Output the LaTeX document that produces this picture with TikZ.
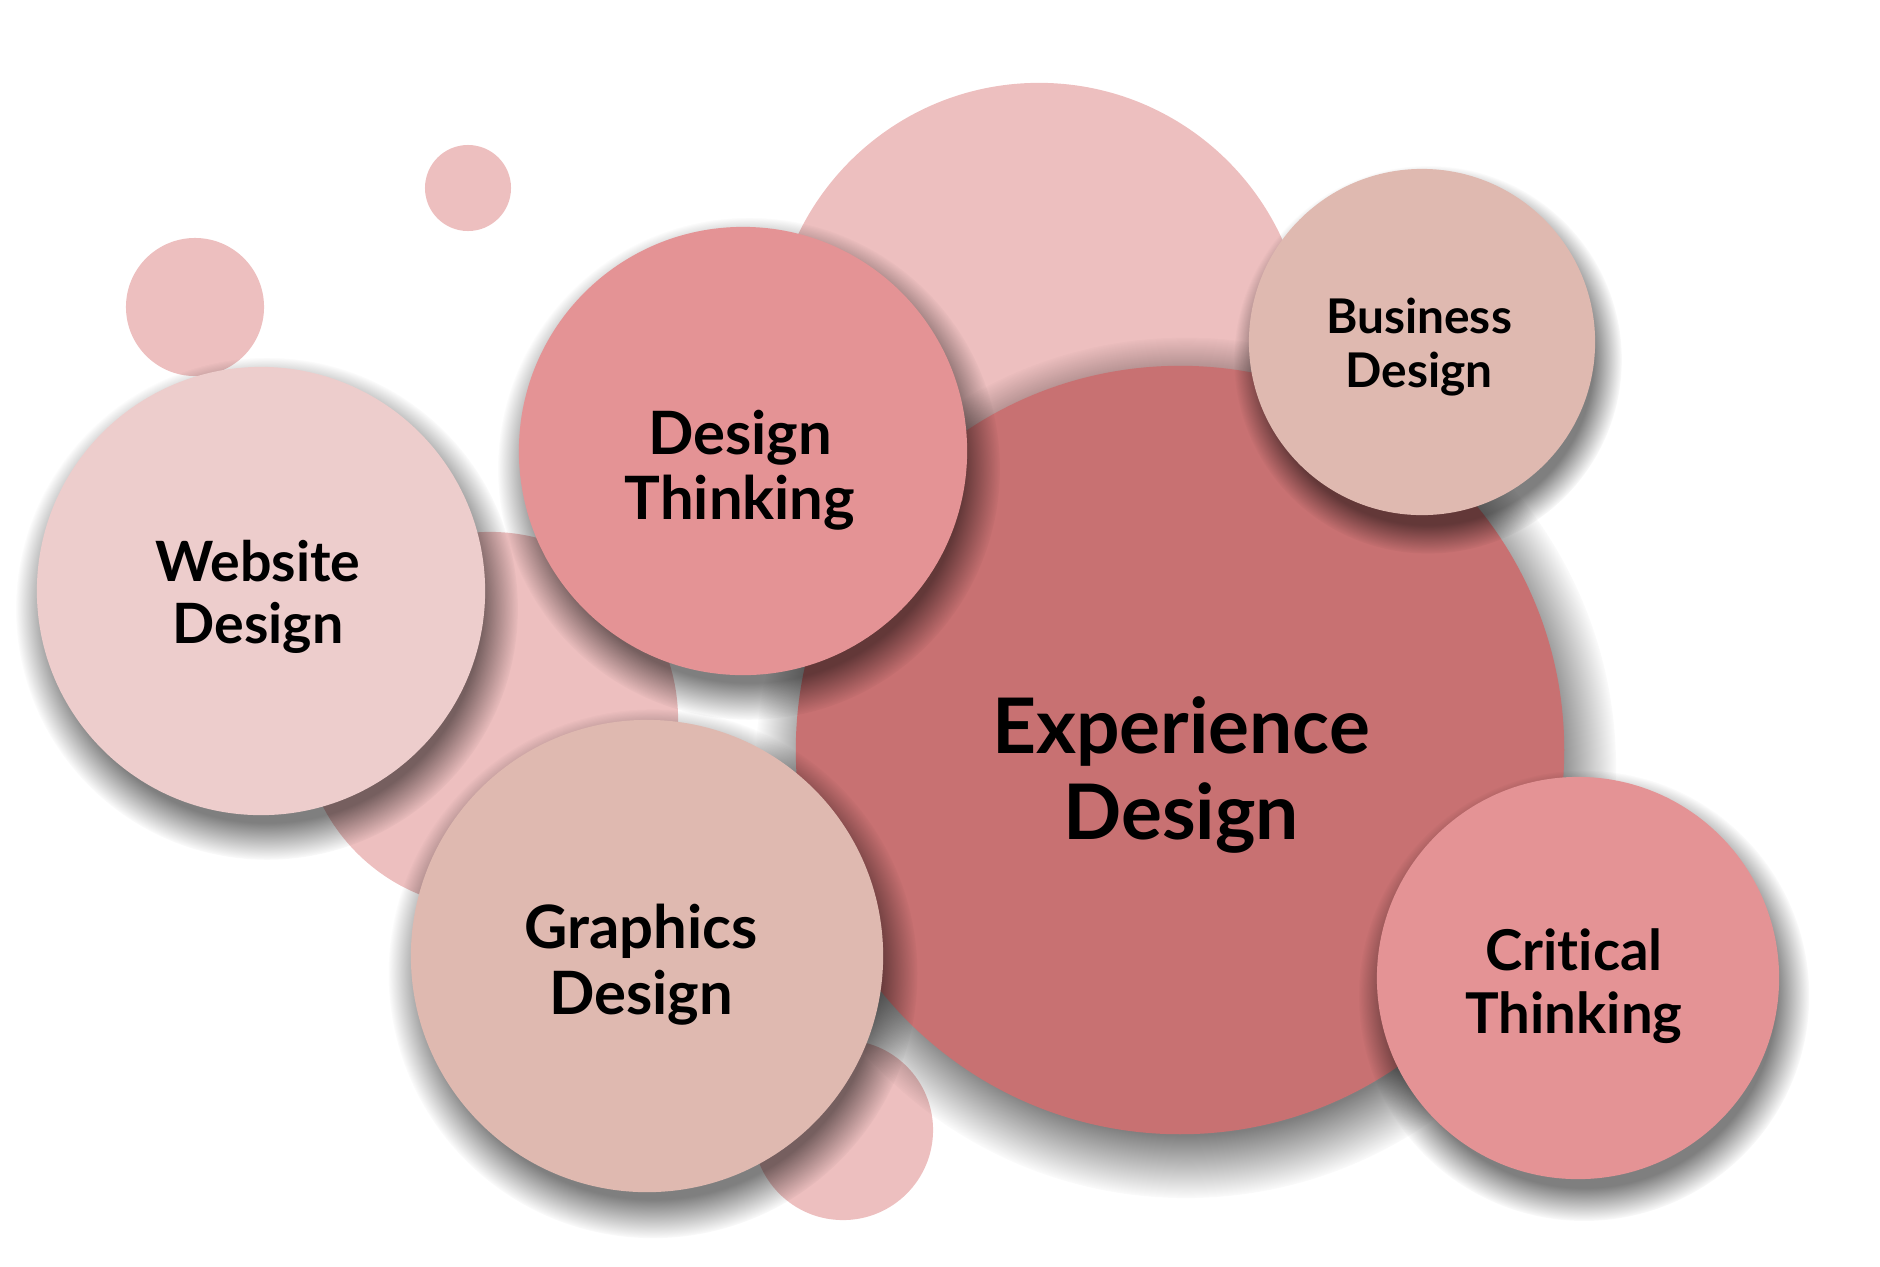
\documentclass[tikz,border=0pt]{standalone}
\usepackage{fontspec}
\setmainfont{Lato}[Ligatures=NoCommon]
\usepackage{tikz}
\usetikzlibrary{positioning,shadows,fadings}

\definecolor{bgpink}{HTML}{EDBFBF}
\definecolor{deeprose}{HTML}{C87172}
\definecolor{rose}{HTML}{E49395}
\definecolor{sand}{HTML}{DFB9B0}
\definecolor{blush}{HTML}{EDCDCC}

\begin{document}
\begin{tikzpicture}[x=0.01cm, y=-0.01cm, back/.style = {circle, fill=bgpink, draw=none, inner sep=0pt}, main/.style = {circle, draw=none, inner sep=0pt, general shadow={fill=black, opacity=0.5, shadow scale=1.12, shadow xshift=1.5pt, shadow yshift=-4.5pt, path fading=circle with fuzzy edge 15 percent}}, word/.style = {align=center, text=black}]

\useasboundingbox (0,0) rectangle (1880,1266);

% bubbles in the back
\node[back, minimum size=5.34cm] (bigback) at (1039,350) {};
\node[back, minimum size=1.38cm] (dotA) at (195,307) {};
\node[back, minimum size=0.86cm] (dotB) at (468,188) {};
\node[back, minimum size=3.76cm] (midback) at (490,720) {};
\node[back, minimum size=1.80cm] (lowback) at (843,1130) {};

% main bubbles
\node[main, fill=deeprose, minimum size=7.68cm] (xd) at (1180,750) {};
\node[main, fill=rose, minimum size=4.48cm] (dt) at (743,451) {};
\node[main, fill=sand, minimum size=3.46cm] (bd) at (1422,342) {};
\node[main, fill=blush, minimum size=4.48cm] (wd) at (261,591) {};
\node[main, fill=sand, minimum size=4.72cm] (gd) at (647,956) {};
\node[main, fill=rose, minimum size=4.02cm] (ct) at (1578,978) {};

% labels
\node[word, font=\bfseries\fontsize{21.8}{24.5}\selectfont] (xdtext) at (1181,775) {Experience\\Design};
\node[word, font=\bfseries\fontsize{17}{18.5}\selectfont] (dttext) at (740,470) {Design\\Thinking};
\node[word, font=\bfseries\fontsize{13.6}{15.4}\selectfont] (bdtext) at (1419,347) {Business\\Design};
\node[word, font=\bfseries\fontsize{15.8}{17.6}\selectfont] (wdtext) at (258,597) {Website\\Design};
\node[word, font=\bfseries\fontsize{17}{18.8}\selectfont] (gdtext) at (641,965) {Graphics\\Design};
\node[word, font=\bfseries\fontsize{16}{18}\selectfont] (cttext) at (1574,986) {Critical\\Thinking};
\end{tikzpicture}
\end{document}
